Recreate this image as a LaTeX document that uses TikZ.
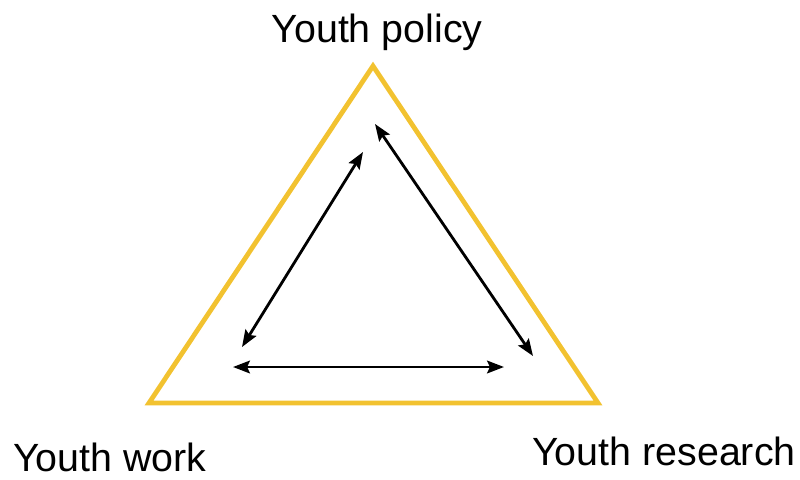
\documentclass[tikz,border=0pt]{standalone}
\usepackage{fontspec}
\setmainfont{Liberation Sans}
\usetikzlibrary{arrows.meta}
\definecolor{youthgold}{HTML}{F2C230}
\begin{document}
\begin{tikzpicture}[x=0.025cm,y=-0.025cm,
  frame/.style={draw=youthgold,line width=3.4pt,line join=miter},
  link/.style={{Stealth[length=12pt,width=9pt,inset=2pt]}-{Stealth[length=12pt,width=9pt,inset=2pt]},line width=2pt},
  corner label/.style={font=\fontsize{28}{33}\selectfont,inner sep=0pt,text depth=0pt}]
  \useasboundingbox (0,0) rectangle (800,479);

  \coordinate (p) at (373,66);
  \coordinate (w) at (149,403);
  \coordinate (r) at (598,403);

  \coordinate (pw) at (363,152);
  \coordinate (wp) at (242,347);
  \coordinate (pr) at (375,124);
  \coordinate (rp) at (533,356);
  \coordinate (wr) at (233,367);
  \coordinate (rw) at (504,367);

  \node[corner label,anchor=base] (policy) at (377,43) {Youth policy};
  \node[corner label,anchor=base west] (work) at (13,471) {Youth work};
  \node[corner label,anchor=base west] (research) at (532,465) {Youth research};

  \draw[frame] (p) -- (w) -- (r) -- cycle;

  \path[link]
   (pw) edge (wp)
   (pr) edge (rp)
   (wr) edge (rw);
\end{tikzpicture}
\end{document}
